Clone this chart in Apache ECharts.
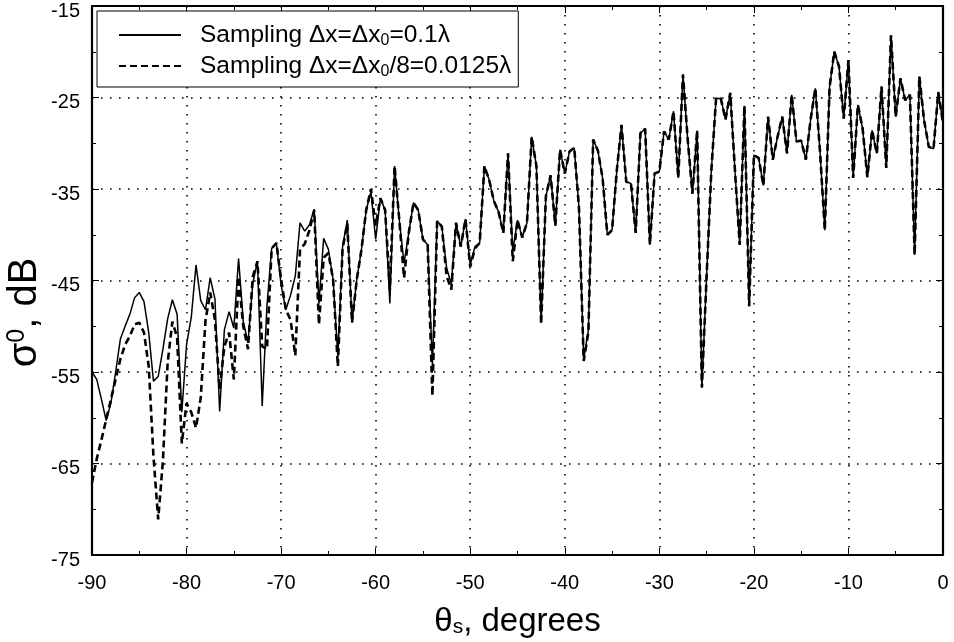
<!DOCTYPE html>
<html>
<head>
<meta charset="utf-8">
<script src="https://cdn.jsdelivr.net/npm/echarts@6/dist/echarts.min.js"></script>
<style>html,body{margin:0;padding:0;background:#fff;}#c{width:954px;height:642px;}</style>
</head>
<body>
<div id="c"></div>
<script>
// Scattering angle theta_s (degrees), sampled every 0.5 degree
const angles = [
-90,-89.5,-89,-88.5,-88,-87.5,-87,-86.5,-86,-85.5,
-85,-84.5,-84,-83.5,-83,-82.5,-82,-81.5,-81,-80.5,
-80,-79.5,-79,-78.5,-78,-77.5,-77,-76.5,-76,-75.5,
-75,-74.5,-74,-73.5,-73,-72.5,-72,-71.5,-71,-70.5,
-70,-69.5,-69,-68.5,-68,-67.5,-67,-66.5,-66,-65.5,
-65,-64.5,-64,-63.5,-63,-62.5,-62,-61.5,-61,-60.5,
-60,-59.5,-59,-58.5,-58,-57.5,-57,-56.5,-56,-55.5,
-55,-54.5,-54,-53.5,-53,-52.5,-52,-51.5,-51,-50.5,
-50,-49.5,-49,-48.5,-48,-47.5,-47,-46.5,-46,-45.5,
-45,-44.5,-44,-43.5,-43,-42.5,-42,-41.5,-41,-40.5,
-40,-39.5,-39,-38.5,-38,-37.5,-37,-36.5,-36,-35.5,
-35,-34.5,-34,-33.5,-33,-32.5,-32,-31.5,-31,-30.5,
-30,-29.5,-29,-28.5,-28,-27.5,-27,-26.5,-26,-25.5,
-25,-24.5,-24,-23.5,-23,-22.5,-22,-21.5,-21,-20.5,
-20,-19.5,-19,-18.5,-18,-17.5,-17,-16.5,-16,-15.5,
-15,-14.5,-14,-13.5,-13,-12.5,-12,-11.5,-11,-10.5,
-10,-9.5,-9,-8.5,-8,-7.5,-7,-6.5,-6,-5.5,
-5,-4.5,-4,-3.5,-3,-2.5,-2,-1.5,-1,-0.5,
0];

// sigma0 (dB), sampling dx = dx0 = 0.1 lambda (solid)
const coarse = [
-55.0,-55.8,-58.0,-60.3,-58.4,-55.0,-51.4,-50.0,-48.7,-46.9,
-46.3,-47.3,-50.7,-56.0,-55.5,-52.5,-49.2,-47.1,-48.7,-59.4,
-52.0,-49.0,-43.3,-47.2,-48.2,-44.7,-47.0,-59.3,-50.4,-48.4,
-50.2,-42.6,-49.5,-51.8,-45.3,-42.9,-58.7,-47.8,-41.5,-40.9,
-45.5,-48.2,-46.6,-44.5,-38.7,-39.6,-38.9,-37.2,-47.5,-40.4,
-41.6,-44.9,-53.3,-41.3,-38.4,-49.6,-44.9,-41.6,-37.3,-35.3,
-40.5,-36.0,-37.3,-47.5,-32.5,-38.4,-43.1,-39.8,-36.5,-37.3,
-40.5,-41.1,-54.3,-38.5,-39.1,-43.6,-45.4,-38.7,-41.3,-38.3,
-43.3,-41.3,-40.9,-32.5,-34.0,-36.3,-37.5,-39.8,-31.1,-41.8,
-38.4,-40.3,-38.7,-29.3,-32.5,-49.6,-35.8,-33.5,-39.0,-30.7,
-33.3,-30.9,-30.5,-37.0,-53.6,-50.4,-29.6,-30.8,-33.8,-40.0,
-39.5,-33.0,-28.0,-34.2,-34.4,-39.8,-28.9,-28.4,-41.1,-33.3,
-33.1,-28.7,-29.6,-26.5,-33.8,-22.5,-29.6,-35.5,-28.6,-56.7,
-44.5,-33.0,-25.1,-25.1,-27.4,-24.5,-33.0,-41.1,-25.9,-47.8,
-31.3,-31.6,-34.6,-27.1,-31.8,-29.3,-27.1,-31.1,-24.7,-29.8,
-29.7,-31.8,-27.4,-24.0,-31.0,-39.5,-23.9,-20.0,-21.6,-27.3,
-20.9,-33.8,-25.8,-28.4,-33.7,-28.6,-31.1,-23.8,-32.7,-18.2,
-27.1,-22.9,-25.3,-24.7,-42.2,-22.7,-27.5,-30.4,-30.6,-24.4,
-27.8];

// sigma0 (dB), sampling dx = dx0/8 = 0.0125 lambda (dashed)
const fine = [
-67.1,-64.5,-62.4,-60.2,-58.0,-55.8,-53.6,-52.0,-51.1,-49.8,
-49.6,-50.7,-54.4,-64.2,-71.1,-64.7,-54.0,-49.5,-51.2,-62.8,
-58.4,-59.4,-61.1,-57.8,-49.4,-46.3,-49.3,-56.9,-52.2,-50.7,
-55.8,-44.6,-50.0,-52.5,-44.6,-42.9,-52.2,-52.5,-41.5,-40.9,
-44.9,-48.2,-49.3,-53.2,-41.6,-41.0,-39.5,-37.3,-49.8,-42.5,
-42.0,-44.9,-54.4,-41.5,-38.8,-49.6,-44.9,-41.6,-37.3,-35.0,
-39.0,-36.0,-37.3,-46.0,-32.5,-38.4,-44.7,-39.8,-36.5,-37.3,
-40.5,-41.1,-57.6,-38.5,-39.1,-44.5,-46.0,-38.7,-41.3,-38.3,
-43.5,-41.5,-40.9,-32.5,-34.0,-36.3,-37.5,-39.8,-31.1,-42.9,
-38.4,-40.3,-38.7,-29.3,-32.5,-49.8,-35.8,-33.5,-39.0,-30.7,
-33.3,-30.9,-30.5,-37.0,-53.8,-50.6,-29.6,-30.8,-33.8,-40.0,
-39.5,-33.0,-28.0,-34.2,-34.4,-39.8,-28.9,-28.4,-41.1,-33.3,
-33.1,-28.7,-29.6,-26.5,-33.8,-22.5,-29.6,-35.5,-28.6,-56.7,
-44.5,-33.0,-25.1,-25.1,-27.4,-24.5,-33.0,-41.1,-25.9,-47.8,
-31.3,-31.6,-34.6,-27.1,-31.8,-29.3,-27.1,-31.1,-24.7,-29.8,
-29.7,-31.8,-27.4,-24.0,-31.0,-39.5,-23.9,-20.0,-21.6,-27.3,
-20.9,-33.8,-25.8,-28.4,-33.7,-28.6,-31.1,-23.8,-32.7,-18.2,
-27.1,-22.9,-25.3,-24.7,-42.2,-22.7,-27.5,-30.4,-30.6,-24.4,
-27.8];

const seriesNames = ['Sampling \u0394x=\u0394x{sub|0}=0.1\u03bb', 'Sampling \u0394x=\u0394x{sub|0}/8=0.0125\u03bb'];
const xTitle = '\u03b8{sub|s}, degrees';
const yTitle = '\u03c3{sup|0}, dB';

const FONT = '"Liberation Sans", Arial, Helvetica, sans-serif';
const chart = echarts.init(document.getElementById('c'), null, {renderer: 'canvas'});

const pairs = arr => angles.map((a, i) => [a, arr[i]]);

const gridDots = {show: true, lineStyle: {color: '#000', width: 1.6, type: [1.6, 7.4]}};
const boxAxisLine = {show: true, onZero: false, lineStyle: {color: '#000', width: 2.2}};
const tickIn = {show: true, inside: true, length: 7, lineStyle: {color: '#000', width: 1}};
const minorIn = {show: true, splitNumber: 2, length: 4, lineStyle: {color: '#000', width: 1}};

chart.setOption({
  backgroundColor: '#fff',
  animation: false,
  grid: {left: 92, right: 11, top: 6, bottom: 87, containLabel: false, outerBoundsMode: 'none'},
  legend: {
    left: 97, top: 11, orient: 'vertical',
    backgroundColor: '#fff', borderColor: '#000', borderWidth: 1, borderRadius: 0,
    padding: [10, 7, 7, 21], itemGap: 3, itemWidth: 62, itemHeight: 14,
    itemStyle: {opacity: 0},
    data: [{name: seriesNames[0]}, {name: seriesNames[1]}],
    textStyle: {
      fontFamily: FONT, fontSize: 24.5, color: '#000', padding: [0, 0, 0, 14], lineHeight: 28,
      rich: {sub: {fontFamily: FONT, fontSize: 16, color: '#000', verticalAlign: 'bottom', lineHeight: 16}}
    }
  },
  xAxis: [{
    type: 'value', min: -90, max: 0, interval: 10, position: 'bottom',
    axisLine: boxAxisLine, axisTick: tickIn, minorTick: minorIn,
    splitLine: gridDots, minorSplitLine: {show: false},
    axisLabel: {color: '#000', fontFamily: FONT, fontSize: 20, margin: 18},
    name: xTitle, nameLocation: 'middle', nameGap: 50,
    nameTextStyle: {fontFamily: FONT, fontSize: 33, color: '#000',
      rich: {sub: {fontFamily: FONT, fontSize: 21, color: '#000', verticalAlign: 'bottom', lineHeight: 21}}}
  }, {
    type: 'value', min: -90, max: 0, interval: 10, position: 'top',
    axisLine: boxAxisLine, axisTick: tickIn, minorTick: minorIn,
    splitLine: {show: false}, axisLabel: {show: false}
  }],
  yAxis: [{
    type: 'value', min: -75, max: -15, interval: 10, position: 'left',
    axisLine: boxAxisLine, axisTick: tickIn, minorTick: minorIn,
    splitLine: gridDots, minorSplitLine: {show: false},
    axisLabel: {color: '#000', fontFamily: FONT, fontSize: 20, margin: 12, verticalAlign: 'top', lineHeight: 10},
    name: yTitle, nameLocation: 'middle', nameGap: 47, nameRotate: 90, nameMoveOverlap: false,
    nameTextStyle: {fontFamily: FONT, fontSize: 40, color: '#000', padding: [0, 64, 0, 0],
      rich: {sup: {fontFamily: FONT, fontSize: 25, color: '#000', verticalAlign: 'top', lineHeight: 25}}}
  }, {
    type: 'value', min: -75, max: -15, interval: 10, position: 'right',
    axisLine: boxAxisLine, axisTick: tickIn, minorTick: minorIn,
    splitLine: {show: false}, axisLabel: {show: false}
  }],
  series: [{
    name: seriesNames[0], type: 'line', data: pairs(coarse), showSymbol: false, symbol: 'none',
    lineStyle: {color: '#000', width: 1.5, type: 'solid'}, itemStyle: {color: '#000'}, z: 3
  }, {
    name: seriesNames[1], type: 'line', data: pairs(fine), showSymbol: false, symbol: 'none',
    lineStyle: {color: '#000', width: 2.6, type: [7, 4]}, itemStyle: {color: '#000'}, z: 2
  }]
});
</script>
</body>
</html>
